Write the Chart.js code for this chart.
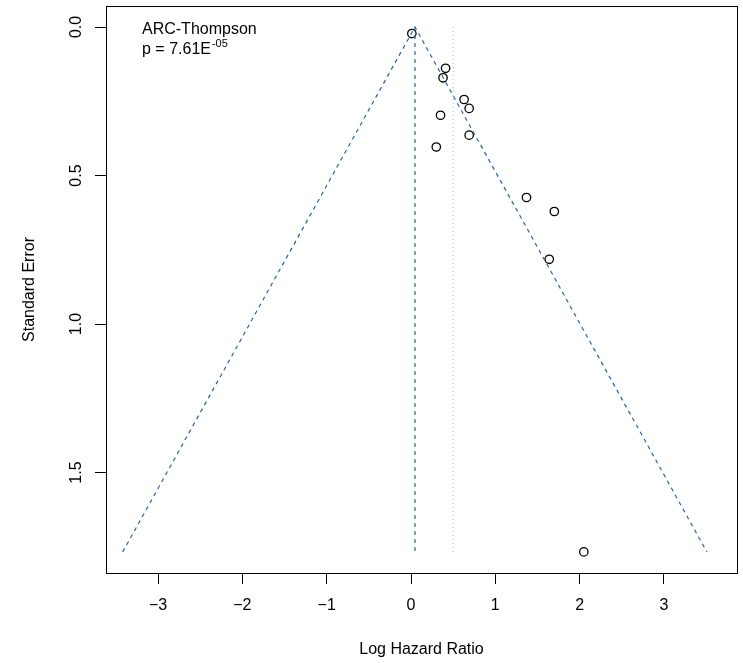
<!DOCTYPE html>
<html>
<head>
<meta charset="utf-8">
<script src="https://cdn.jsdelivr.net/npm/chart.js@4.4.1/dist/chart.umd.min.js"></script>
<style>
  body { margin: 0; background: #fff; }
  #wrap { width: 743px; height: 663px; }
</style>
</head>
<body>
<div id="wrap"><canvas id="funnel-chart" width="743" height="663"></canvas></div>
<script>
// study estimates (log hazard ratio) and their standard errors
const logHR = [0.01, 0.41, 0.38, 0.63, 0.69, 0.35, 0.69, 0.30, 1.37, 1.70, 1.64, 2.05];
const stdErr = [0.022, 0.139, 0.171, 0.244, 0.274, 0.297, 0.364, 0.404, 0.574, 0.621, 0.782, 1.767];

// funnel outline and reference lines
const funnelX = [-3.42, 0.047, 3.51];
const funnelY = [1.767, 0, 1.767];
const pooledX = [0.047, 0.047];
const pooledY = [0, 1.767];
const nullX = [0.5, 0.5];
const nullY = [0, 1.767];

const xTicks = [-3, -2, -1, 0, 1, 2, 3];
const yTicks = [0, 0.5, 1.0, 1.5];

const FONT = "'Liberation Sans', Arial, Helvetica, sans-serif";
const toPoints = (xs, ys) => xs.map((x, i) => ({ x: x, y: ys[i] }));

const boxAndText = {
    id: 'boxAndText',
    afterDraw(chart) {
        const ctx = chart.ctx;
        const a = chart.chartArea;
        const yScale = chart.scales.y;
        ctx.save();
        ctx.strokeStyle = '#000';
        ctx.lineWidth = 1;
        ctx.strokeRect(a.left + 0.5, a.top + 0.5, a.right - a.left, a.bottom - a.top);

        // rotated y tick labels, like R
        ctx.fillStyle = '#000';
        ctx.font = '16px ' + FONT;
        ctx.textAlign = 'center';
        ctx.textBaseline = 'middle';
        yTicks.forEach(v => {
            const py = yScale.getPixelForValue(v);
            ctx.save();
            ctx.translate(77, py);
            ctx.rotate(-Math.PI / 2);
            ctx.fillText(v.toFixed(1), 0, 0);
            ctx.restore();
        });

        // annotation
        ctx.textAlign = 'left';
        ctx.textBaseline = 'alphabetic';
        ctx.fillText('ARC-Thompson', 142, 34);
        ctx.fillText('p = 7.61E', 142, 54);
        const w = ctx.measureText('p = 7.61E').width;
        ctx.font = '11px ' + FONT;
        ctx.fillText('-05', 142 + w + 1, 47);
        ctx.restore();
    }
};

new Chart(document.getElementById('funnel-chart'), {
    type: 'scatter',
    data: {
        datasets: [
            {
                data: toPoints(funnelX, funnelY),
                showLine: true,
                borderColor: '#2b62a0',
                borderWidth: 1.2,
                borderDash: [4, 4],
                pointRadius: 0,
                tension: 0
            },
            {
                data: toPoints(pooledX, pooledY),
                showLine: true,
                borderColor: '#2b62a0',
                borderWidth: 1.2,
                borderDash: [4, 4],
                pointRadius: 0
            },
            {
                data: toPoints(nullX, nullY),
                showLine: true,
                borderColor: '#b4c6d8',
                borderWidth: 1.2,
                borderDash: [1, 3],
                pointRadius: 0
            },
            {
                data: toPoints(logHR, stdErr),
                showLine: false,
                pointStyle: 'circle',
                pointRadius: 4.2,
                pointBorderWidth: 1.3,
                borderColor: '#000',
                backgroundColor: 'rgba(0,0,0,0)'
            }
        ]
    },
    options: {
        responsive: false,
        animation: false,
        layout: { padding: { top: 6, right: 6, left: 0, bottom: 0 } },
        scales: {
            x: {
                type: 'linear',
                min: -3.618,
                max: 3.867,
                afterBuildTicks: s => { s.ticks = xTicks.map(v => ({ value: v })); },
                afterFit: s => { s.height = 90; },
                border: { display: false },
                grid: { drawOnChartArea: false, drawTicks: true, tickLength: 11, color: '#000', lineWidth: 1 },
                ticks: {
                    padding: 12,
                    color: '#000',
                    font: { family: FONT, size: 16 },
                    maxRotation: 0,
                    callback: v => v < 0 ? '\u2212' + Math.abs(v) : String(v)
                },
                title: {
                    display: true,
                    text: 'Log Hazard Ratio',
                    color: '#000',
                    font: { family: FONT, size: 16 },
                    padding: { top: 0, bottom: 3.5 }
                }
            },
            y: {
                type: 'linear',
                reverse: true,
                min: -0.0707,
                max: 1.838,
                afterBuildTicks: s => { s.ticks = yTicks.map(v => ({ value: v })); },
                afterFit: s => { s.width = 106; },
                border: { display: false },
                grid: { drawOnChartArea: false, drawTicks: true, tickLength: 11, color: '#000', lineWidth: 1 },
                ticks: { display: false },
                title: {
                    display: true,
                    text: 'Standard Error',
                    color: '#000',
                    font: { family: FONT, size: 16 },
                    padding: { top: 19.5, bottom: 0 }
                }
            }
        },
        plugins: {
            legend: { display: false },
            tooltip: { enabled: false }
        }
    },
    plugins: [boxAndText]
});
</script>
</body>
</html>
